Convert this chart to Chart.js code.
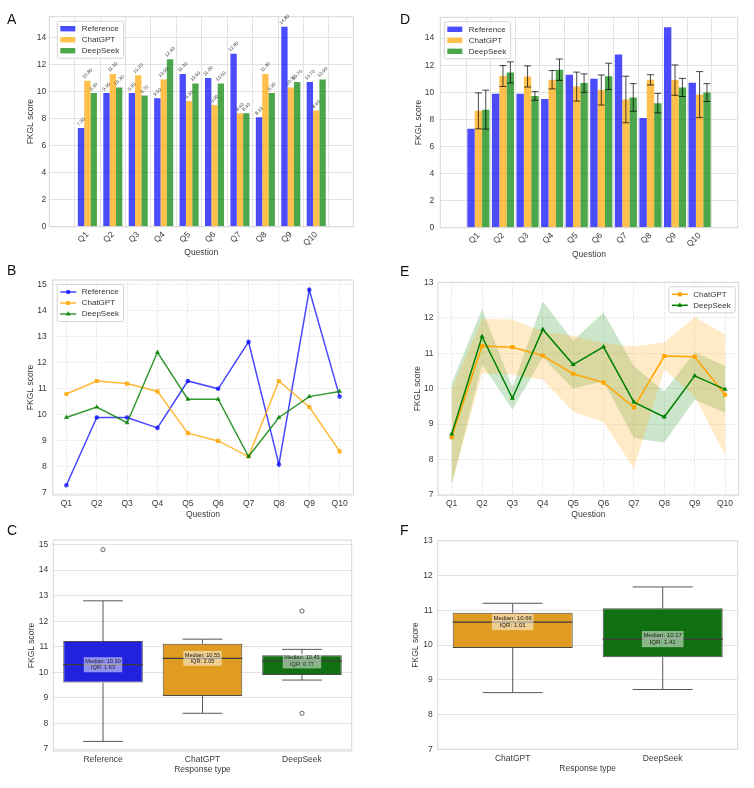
<!DOCTYPE html>
<html>
<head>
<meta charset="utf-8">
<title>FKGL scores by question</title>
<script src="https://cdn.jsdelivr.net/npm/chart.js@4.4.1/dist/chart.umd.min.js"></script>
<style>
  body { margin: 0; background: #fff; font-family: "Liberation Sans", Arial, sans-serif; }
  #page { position: relative; width: 754px; height: 788px; overflow: hidden; }
  #page canvas { position: absolute; }
  .tag { position: absolute; font-size: 14px; line-height: 14px; color: #111; }
</style>
</head>
<body>
<div id="page">
  <canvas id="chartA" width="377" height="265" style="left:0;top:0"></canvas>
  <canvas id="chartD" width="377" height="265" style="left:377px;top:0"></canvas>
  <canvas id="chartB" width="377" height="265" style="left:0;top:265px"></canvas>
  <canvas id="chartE" width="377" height="265" style="left:377px;top:265px"></canvas>
  <canvas id="chartC" width="377" height="258" style="left:0;top:530px"></canvas>
  <canvas id="chartF" width="377" height="258" style="left:377px;top:530px"></canvas>
  <div class="tag" style="left:7px;top:12px">A</div>
  <div class="tag" style="left:400px;top:12px">D</div>
  <div class="tag" style="left:7px;top:263px">B</div>
  <div class="tag" style="left:400px;top:264px">E</div>
  <div class="tag" style="left:7px;top:523px">C</div>
  <div class="tag" style="left:400px;top:523px">F</div>
</div>
<script>
// FKGL readability per question. Left column: one response per source (A bars, B lines,
// C boxes). Right column: repeated ChatGPT / DeepSeek runs, mean ± SD (D, E) and box of means (F).

const questions = ["Q1", "Q2", "Q3", "Q4", "Q5", "Q6", "Q7", "Q8", "Q9", "Q10"];
const responseTypes = ["Reference", "ChatGPT", "DeepSeek"];
const modelTypes = ["ChatGPT", "DeepSeek"];

const referenceScores = [7.3, 9.9, 9.9, 9.5, 11.3, 11.0, 12.8, 8.1, 14.8, 10.7];
const chatgptScores = [10.8, 11.3, 11.2, 10.9, 9.3, 9.0, 8.4, 11.3, 10.3, 8.6];
const deepseekScores = [9.9, 10.3, 9.7, 12.4, 10.6, 10.6, 8.4, 9.9, 10.7, 10.9];

const chatgptMean = [8.63, 11.20, 11.17, 10.93, 10.42, 10.17, 9.47, 10.92, 10.90, 9.83];
const chatgptSd = [1.33, 0.77, 0.78, 0.68, 1.07, 1.11, 1.72, 0.38, 1.12, 1.70];
const deepseekMean = [8.72, 11.47, 9.73, 11.67, 10.68, 11.18, 9.62, 9.20, 10.36, 9.98];
const deepseekSd = [1.44, 0.78, 0.32, 0.79, 0.68, 0.97, 1.02, 0.72, 0.67, 0.66];

const barTicks = [0, 2, 4, 6, 8, 10, 12, 14];
const wideTicks = [7, 8, 9, 10, 11, 12, 13, 14, 15];
const narrowTicks = [7, 8, 9, 10, 11, 12, 13];

const FONT = '"Liberation Sans", Arial, Helvetica, sans-serif';
const GRID = "#e3e3e3";
const SPINE = "#d6d6d6";
const BAR = { Reference: "rgba(0,0,255,0.7)", ChatGPT: "rgba(255,165,0,0.7)", DeepSeek: "rgba(0,128,0,0.7)" };
const BOX = { Reference: "#2222de", ChatGPT: "#df9c20", DeepSeek: "#117011" };

Chart.defaults.font.family = FONT;
Chart.defaults.font.size = 8.5;
Chart.defaults.color = "#3a3a3a";
Chart.defaults.animation = false;
Chart.defaults.responsive = false;
Chart.defaults.plugins.legend.display = false;
Chart.defaults.plugins.tooltip.enabled = false;

// numpy-style linear quantile on a sorted array
function quantile(s, q) {
  const pos = (s.length - 1) * q, j = Math.floor(pos), t = pos - j;
  if (j + 1 >= s.length) return s[j];
  const d = s[j + 1] - s[j];
  return t >= 0.5 ? s[j + 1] - d * (1 - t) : s[j] + d * t;
}
function boxStats(values) {
  const s = [...values].sort((a, b) => a - b);
  const n = s.length;
  const med = n % 2 ? s[(n - 1) / 2] : (s[n / 2 - 1] + s[n / 2]) / 2;
  const q1 = quantile(s, 0.25), q3 = quantile(s, 0.75), iqr = q3 - q1;
  const lo = q1 - 1.5 * iqr, hi = q3 + 1.5 * iqr;
  const inside = s.filter(v => v >= lo && v <= hi);
  return { q1, q3, med, iqr, min: inside[0], max: inside[inside.length - 1], outliers: s.filter(v => v < lo || v > hi) };
}

// plot-area placement from the reference picture
function frame(w, h, b) {
  const half = 8.5 * 1.2 / 2;
  const padLeft = b.yTitleX - half, padBottom = h - b.xTitleY - half;
  return {
    padding: { left: padLeft, right: w - b.right, top: b.top, bottom: padBottom },
    yWidth: b.left - padLeft,
    xHeight: h - padBottom - b.bottom,
  };
}

function yAxis(f, ticks, min, max, pad, dashed) {
  return {
    min, max,
    afterBuildTicks: s => { s.ticks = ticks.map(v => ({ value: v })); },
    afterFit: s => { s.width = f.yWidth; },
    ticks: { padding: pad },
    grid: { color: GRID, drawTicks: false },
    border: { display: false, dash: dashed ? [1.5, 1.5] : [] },
    title: { display: true, text: "FKGL score", padding: 0 },
  };
}
function questionAxis(f, min, max, rotate, dashed) {
  return {
    type: "linear", min, max,
    afterBuildTicks: s => { s.ticks = questions.map((_, i) => ({ value: i })); },
    afterFit: s => { s.height = f.xHeight; },
    ticks: { callback: v => questions[v], autoSkip: false, minRotation: rotate, maxRotation: rotate, padding: rotate ? 3 : 4 },
    grid: { color: GRID, drawTicks: false },
    border: { display: false, dash: dashed ? [1.5, 1.5] : [] },
    title: { display: true, text: "Question", padding: 0 },
  };
}
function typeAxis(f) {
  return {
    afterFit: s => { s.height = f.xHeight; },
    ticks: { padding: 4 },
    grid: { display: false, drawTicks: false },
    border: { display: false },
    title: { display: true, text: "Response type", padding: 0 },
  };
}

function points(values) { return values.map((v, i) => ({ x: i, y: v })); }
function barSet(label, values, share, extra) {
  return Object.assign({ label, data: points(values), backgroundColor: BAR[label], borderWidth: 0,
    categoryPercentage: share, barPercentage: 1 }, extra || {});
}
function lineSet(label, values, color, pointStyle, radius, order) {
  return { label, data: points(values), borderColor: color, backgroundColor: color, borderWidth: 1.5,
    pointStyle, pointRadius: radius, pointBorderWidth: 0, tension: 0, fill: false, order };
}
function bandSets(mean, sd, color) {
  const clear = "rgba(0,0,0,0)";
  return [
    { data: points(mean.map((m, i) => m + sd[i])), borderColor: clear, borderWidth: 0, pointRadius: 0, fill: false, order: 5 },
    { data: points(mean.map((m, i) => m - sd[i])), borderColor: clear, borderWidth: 0, pointRadius: 0, fill: "-1", backgroundColor: color, order: 5 },
  ];
}

// ---- plugins -------------------------------------------------------------

const spines = {
  id: "spines",
  afterDatasetsDraw(chart) {
    const { ctx, chartArea: a } = chart;
    ctx.save();
    ctx.strokeStyle = SPINE;
    ctx.lineWidth = 1;
    ctx.strokeRect(a.left, a.top, a.right - a.left, a.bottom - a.top);
    ctx.restore();
  },
};

const barValueLabels = {
  id: "barValueLabels",
  afterDatasetsDraw(chart, args, opts) {
    if (!opts.show) return;
    const ctx = chart.ctx;
    ctx.save();
    ctx.font = "4.8px " + FONT;
    ctx.fillStyle = "#444";
    ctx.textAlign = "center";
    ctx.textBaseline = "middle";
    chart.data.datasets.forEach((ds, i) => {
      chart.getDatasetMeta(i).data.forEach((bar, j) => {
        const txt = ds.data[j].y.toFixed(2);
        const d = (ctx.measureText(txt).width + 4.8) * Math.SQRT1_2 / 2;
        ctx.save();
        ctx.translate(bar.x, bar.y - 1.2 - d);
        ctx.rotate(-Math.PI / 4);
        ctx.fillText(txt, 0, 0);
        ctx.restore();
      });
    });
    ctx.restore();
  },
};

const errorBars = {
  id: "errorBars",
  afterDatasetsDraw(chart) {
    const { ctx, scales: { y } } = chart;
    ctx.save();
    ctx.strokeStyle = "rgba(0,0,0,0.72)";
    ctx.lineWidth = 1;
    chart.data.datasets.forEach((ds, i) => {
      if (!ds.errors) return;
      chart.getDatasetMeta(i).data.forEach((bar, j) => {
        const m = ds.data[j].y, e = ds.errors[j];
        const top = y.getPixelForValue(m + e), bot = y.getPixelForValue(m - e);
        ctx.beginPath();
        ctx.moveTo(bar.x, top); ctx.lineTo(bar.x, bot);
        ctx.moveTo(bar.x - 3.5, top); ctx.lineTo(bar.x + 3.5, top);
        ctx.moveTo(bar.x - 3.5, bot); ctx.lineTo(bar.x + 3.5, bot);
        ctx.stroke();
      });
    });
    ctx.restore();
  },
};

const boxWhiskers = {
  id: "boxWhiskers",
  afterDatasetsDraw(chart, args, opts) {
    if (!opts.stats) return;
    const { ctx, scales: { y } } = chart;
    const bars = chart.getDatasetMeta(0).data;
    opts.stats.forEach((s, i) => {
      const x = bars[i].x, half = bars[i].width / 2;
      const py = v => y.getPixelForValue(v);
      ctx.save();
      ctx.strokeStyle = "#585858";
      ctx.lineWidth = 1;
      ctx.beginPath();
      ctx.moveTo(x, py(s.q3)); ctx.lineTo(x, py(s.max));
      ctx.moveTo(x, py(s.q1)); ctx.lineTo(x, py(s.min));
      ctx.moveTo(x - half / 2, py(s.max)); ctx.lineTo(x + half / 2, py(s.max));
      ctx.moveTo(x - half / 2, py(s.min)); ctx.lineTo(x + half / 2, py(s.min));
      ctx.stroke();
      ctx.strokeStyle = "#3c3c3c";
      ctx.lineWidth = 1.2;
      ctx.beginPath();
      ctx.moveTo(x - half, py(s.med)); ctx.lineTo(x + half, py(s.med));
      ctx.stroke();

      const lines = ["Median: " + s.med.toFixed(2), "IQR: " + s.iqr.toFixed(2)];
      const fs = opts.fontSize, lh = fs * 1.12;
      ctx.font = fs + "px " + FONT;
      const tw = Math.max(...lines.map(t => ctx.measureText(t).width));
      const bw = tw + 3, bh = lh * 2 + 2.5, cy = py(s.med);
      ctx.fillStyle = "rgba(255,255,255,0.5)";
      ctx.fillRect(x - bw / 2, cy - bh / 2, bw, bh);
      ctx.fillStyle = "#222";
      ctx.textAlign = "center";
      ctx.textBaseline = "middle";
      ctx.fillText(lines[0], x, cy - lh / 2);
      ctx.fillText(lines[1], x, cy + lh / 2);
      ctx.restore();
    });
  },
};

const insetLegend = {
  id: "insetLegend",
  afterDraw(chart, args, opts) {
    if (!opts.items) return;
    const { ctx, chartArea: a } = chart;
    ctx.save();
    ctx.font = "8px " + FONT;
    const rowH = 11;
    const textW = Math.max(...opts.items.map(it => ctx.measureText(it.label).width));
    const w = 3.5 + 16 + 5.5 + textW + 4, h = opts.items.length * rowH + 4;
    const x0 = opts.align === "right" ? a.right - opts.dx - w : a.left + opts.dx;
    const y0 = a.top + opts.dy;
    ctx.fillStyle = "rgba(255,255,255,0.85)";
    ctx.strokeStyle = "#d4d4d4";
    ctx.lineWidth = 1;
    ctx.beginPath();
    ctx.roundRect(x0 + 0.5, y0 + 0.5, w, h, 2);
    ctx.fill();
    ctx.stroke();
    opts.items.forEach((it, i) => {
      const cy = y0 + 2 + rowH * i + rowH / 2 + 0.5;
      const sx = x0 + 3.5;
      if (it.kind === "patch") {
        ctx.fillStyle = it.color;
        ctx.fillRect(sx, cy - 2.7, 15, 5.4);
      } else {
        ctx.strokeStyle = it.color;
        ctx.lineWidth = 1.5;
        ctx.beginPath();
        ctx.moveTo(sx, cy); ctx.lineTo(sx + 16, cy);
        ctx.stroke();
        ctx.fillStyle = it.color;
        Chart.helpers.drawPoint(ctx, { pointStyle: it.marker, radius: it.radius, rotation: 0, borderWidth: 0 }, sx + 8, cy);
      }
      ctx.fillStyle = "#333";
      ctx.textBaseline = "middle";
      ctx.fillText(it.label, sx + 21.5, cy);
    });
    ctx.restore();
  },
};

Chart.register(spines, barValueLabels, errorBars, boxWhiskers, insetLegend);

const barLegend = responseTypes.map(t => ({ label: t, color: BAR[t], kind: "patch" }));

// ---- A: single-response bars with value labels ----------------------------
const fA = frame(377, 265, { left: 49.3, right: 353.3, top: 16.7, bottom: 226.7, yTitleX: 31, xTitleY: 253 });
new Chart("chartA", {
  type: "bar",
  data: { datasets: [
    barSet("Reference", referenceScores, 0.75),
    barSet("ChatGPT", chatgptScores, 0.75),
    barSet("DeepSeek", deepseekScores, 0.75),
  ] },
  options: {
    layout: { padding: fA.padding },
    scales: { x: questionAxis(fA, -0.9, 9.86, 45, false), y: yAxis(fA, barTicks, 0, 15.54, 3, false) },
    plugins: {
      barValueLabels: { show: true },
      insetLegend: { items: barLegend, dx: 7.5, dy: 4 },
    },
  },
});

// ---- D: repeated-run means with SD error bars -------------------------------
const fD = frame(377, 265, { left: 63.3, right: 360.7, top: 17.3, bottom: 227.7, yTitleX: 42, xTitleY: 255 });
new Chart("chartD", {
  type: "bar",
  data: { datasets: [
    barSet("Reference", referenceScores, 0.9),
    barSet("ChatGPT", chatgptMean, 0.9, { errors: chatgptSd }),
    barSet("DeepSeek", deepseekMean, 0.9, { errors: deepseekSd }),
  ] },
  options: {
    layout: { padding: fD.padding },
    scales: { x: questionAxis(fD, -0.945, 9.945, 45, false), y: yAxis(fD, barTicks, 0, 15.54, 6, false) },
    plugins: { insetLegend: { items: barLegend, dx: 3.5, dy: 4 } },
  },
});

// ---- B: single-response lines ---------------------------------------------
const fB = frame(377, 265, { left: 52.7, right: 353.3, top: 15, bottom: 230, yTitleX: 30.8, xTitleY: 249.3 });
new Chart("chartB", {
  type: "line",
  data: { datasets: [
    lineSet("Reference", referenceScores, "rgba(0,0,255,0.72)", "circle", 2.3, 3),
    lineSet("ChatGPT", chatgptScores, "rgba(255,165,0,0.8)", "rect", 2.9, 2),
    lineSet("DeepSeek", deepseekScores, "rgba(0,128,0,0.8)", "triangle", 2.9, 1),
  ] },
  options: {
    layout: { padding: fB.padding },
    scales: { x: questionAxis(fB, -0.45, 9.45, 0, true), y: yAxis(fB, wideTicks, 6.925, 15.175, 6, true) },
    plugins: { insetLegend: { dx: 4, dy: 4, items: [
      { label: "Reference", color: "rgba(0,0,255,0.72)", kind: "line", marker: "circle", radius: 2.3 },
      { label: "ChatGPT", color: "rgba(255,165,0,0.8)", kind: "line", marker: "rect", radius: 2.9 },
      { label: "DeepSeek", color: "rgba(0,128,0,0.8)", kind: "line", marker: "triangle", radius: 2.9 },
    ] } },
  },
});

// ---- E: mean lines with ± SD bands ----------------------------------------
const fE = frame(377, 265, { left: 61, right: 361.7, top: 17.3, bottom: 230, yTitleX: 40.3, xTitleY: 249.3 });
new Chart("chartE", {
  type: "line",
  data: { datasets: [
    ...bandSets(chatgptMean, chatgptSd, "rgba(255,165,0,0.22)"),
    ...bandSets(deepseekMean, deepseekSd, "rgba(0,128,0,0.2)"),
    lineSet("ChatGPT", chatgptMean, "#ffa500", "rect", 2.9, 2),
    lineSet("DeepSeek", deepseekMean, "#008000", "triangle", 2.9, 1),
  ] },
  options: {
    layout: { padding: fE.padding },
    scales: { x: questionAxis(fE, -0.45, 9.45, 0, true), y: yAxis(fE, narrowTicks, 7, 13, 4.5, true) },
    plugins: { insetLegend: { align: "right", dx: 4, dy: 4, items: [
      { label: "ChatGPT", color: "#ffa500", kind: "line", marker: "rect", radius: 2.9 },
      { label: "DeepSeek", color: "#008000", kind: "line", marker: "triangle", radius: 2.9 },
    ] } },
  },
});

// ---- C / F: box plots -------------------------------------------------------
function boxChart(id, f, labels, stats, ticks, min, max, fontSize, tickPad) {
  const outliers = stats.flatMap((s, i) => s.outliers.map(v => ({ x: labels[i], y: v })));
  return new Chart(id, {
    type: "bar",
    data: {
      labels,
      datasets: [
        { data: stats.map(s => [s.q1, s.q3]), backgroundColor: labels.map(l => BOX[l]),
          borderColor: "#4a4a4a", borderWidth: 1, borderSkipped: false, barPercentage: 0.8, categoryPercentage: 1 },
        { type: "scatter", data: outliers, pointStyle: "circle", pointRadius: 2.1,
          borderColor: "#555", backgroundColor: "rgba(0,0,0,0)", pointBorderWidth: 0.9 },
      ],
    },
    options: {
      layout: { padding: f.padding },
      scales: { x: typeAxis(f), y: yAxis(f, ticks, min, max, tickPad, false) },
      plugins: { boxWhiskers: { stats, fontSize } },
    },
  });
}

const statsC = [referenceScores, chatgptScores, deepseekScores].map(boxStats);
const fC = frame(377, 258, { left: 53.3, right: 351.7, top: 7.3, bottom: 221, yTitleX: 32, xTitleY: 240 });
boxChart("chartC", fC, responseTypes, statsC, wideTicks, 6.925, 15.175, 5.6, 5);

const statsF = [chatgptMean, deepseekMean].map(boxStats);
const fF = frame(377, 258, { left: 60.7, right: 360.7, top: 10.7, bottom: 219.3, yTitleX: 38.8, xTitleY: 238.3 });
boxChart("chartF", fF, modelTypes, statsF, narrowTicks, 7, 13, 6.1, 5);
</script>
</body>
</html>
